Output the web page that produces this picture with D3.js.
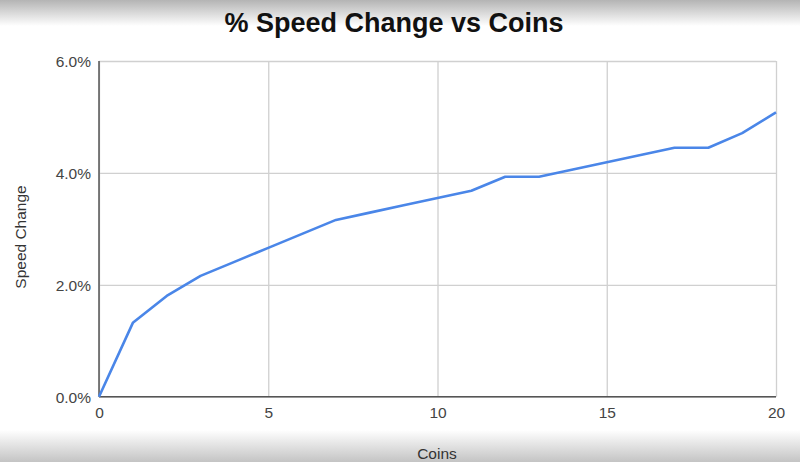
<!DOCTYPE html>
<html>
<head>
<meta charset="utf-8">
<script src="https://cdn.jsdelivr.net/npm/d3@7"></script>
<style>
  html, body { margin: 0; padding: 0; background: #fff; }
  svg { display: block; }
</style>
</head>
<body>
<svg id="chart" width="800" height="462"></svg>
<script>
const coins = [0,1,2,3,4,5,6,7,8,9,10,11,12,13,14,15,16,17,18,19,20];
const speedChange = [0.0, 1.32, 1.80, 2.16, 2.41, 2.66, 2.91, 3.16, 3.29, 3.42, 3.55, 3.68, 3.93, 3.93, 4.06, 4.19, 4.32, 4.45, 4.45, 4.71, 5.08];
const xTicks = [0, 5, 10, 15, 20];
const yTicks = [0, 2, 4, 6];
const title = "% Speed Change vs Coins";
const xLabel = "Coins";
const yLabel = "Speed Change";

const svg = d3.select("#chart");
const W = 800, H = 462;
const m = {left: 99, right: 24, top: 61, bottom: 65};

const defs = svg.append("defs");
const gTop = defs.append("linearGradient").attr("id","gTop").attr("x1",0).attr("y1",0).attr("x2",0).attr("y2",1);
gTop.append("stop").attr("offset","0%").attr("stop-color","#b4b4b4");
gTop.append("stop").attr("offset","100%").attr("stop-color","#ffffff");
const gBot = defs.append("linearGradient").attr("id","gBot").attr("x1",0).attr("y1",0).attr("x2",0).attr("y2",1);
gBot.append("stop").attr("offset","0%").attr("stop-color","#ffffff");
gBot.append("stop").attr("offset","100%").attr("stop-color","#c4c4c4");

svg.append("rect").attr("width",W).attr("height",H).attr("fill","#fff");
svg.append("rect").attr("x",0).attr("y",0).attr("width",W).attr("height",26).attr("fill","url(#gTop)");
svg.append("rect").attr("x",0).attr("y",430).attr("width",W).attr("height",32).attr("fill","url(#gBot)");

const x = d3.scaleLinear().domain([0,20]).range([m.left, W - m.right]);
const y = d3.scaleLinear().domain([0,6]).range([H - m.bottom - 0.3, m.top]);

// gridlines
svg.append("g").attr("transform", `translate(0,${y(0)})`)
  .call(d3.axisBottom(x).tickValues(xTicks).tickSize(-(y(0)-y(6))).tickFormat(""))
  .call(g => g.select(".domain").remove())
  .call(g => g.selectAll("line").attr("stroke","#d0d0d0").attr("stroke-width",1.3));
svg.append("g").attr("transform", `translate(${x(0)},0)`)
  .call(d3.axisLeft(y).tickValues(yTicks).tickSize(-(x(20)-x(0))).tickFormat(""))
  .call(g => g.select(".domain").remove())
  .call(g => g.selectAll("line").attr("stroke","#d0d0d0").attr("stroke-width",1.3));

// axis lines
svg.append("line").attr("x1",x(0)).attr("x2",x(0)).attr("y1",y(6)).attr("y2",y(0)).attr("stroke","#555").attr("stroke-width",1.5);
svg.append("line").attr("x1",x(0)).attr("x2",x(20)).attr("y1",y(0)).attr("y2",y(0)).attr("stroke","#555").attr("stroke-width",1.5);

// tick labels
const xa = svg.append("g").attr("transform", `translate(0,${y(0)})`)
  .call(d3.axisBottom(x).tickValues(xTicks).tickSize(0).tickPadding(0).tickFormat(d3.format("d")));
xa.select(".domain").remove();
xa.selectAll("text").attr("y", 21).attr("dy", null).attr("font-family","'Liberation Sans', Arial, sans-serif").attr("font-size",15.5).attr("fill","#444");

const ya = svg.append("g").attr("transform", `translate(${x(0)},0)`)
  .call(d3.axisLeft(y).tickValues(yTicks).tickSize(0).tickPadding(0).tickFormat(d => d3.format(".1f")(d) + "%"));
ya.select(".domain").remove();
ya.selectAll("text").attr("x", -8).attr("dy","0.35em").attr("font-family","'Liberation Sans', Arial, sans-serif").attr("font-size",15.5).attr("fill","#444");

// line
svg.append("path")
  .datum(coins.map((c,i) => [c, speedChange[i]]))
  .attr("fill","none")
  .attr("stroke","#4a86e8")
  .attr("stroke-width",2.6)
  .attr("stroke-linejoin","round")
  .attr("d", d3.line().x(d => x(d[0])).y(d => y(d[1])));

// title
svg.append("text").attr("x",394).attr("y",32).attr("text-anchor","middle")
  .attr("font-family","'Liberation Sans', Arial, sans-serif").attr("font-weight","bold").attr("font-size",27).attr("fill","#111")
  .text(title);

// axis titles
svg.append("text").attr("x",437).attr("y",459).attr("text-anchor","middle")
  .attr("font-family","'Liberation Sans', Arial, sans-serif").attr("font-size",15.5).attr("fill","#333")
  .text(xLabel);
svg.append("text").attr("transform","translate(26,237) rotate(-90)").attr("text-anchor","middle")
  .attr("font-family","'Liberation Sans', Arial, sans-serif").attr("font-size",15.5).attr("fill","#333")
  .text(yLabel);
</script>
</body>
</html>
